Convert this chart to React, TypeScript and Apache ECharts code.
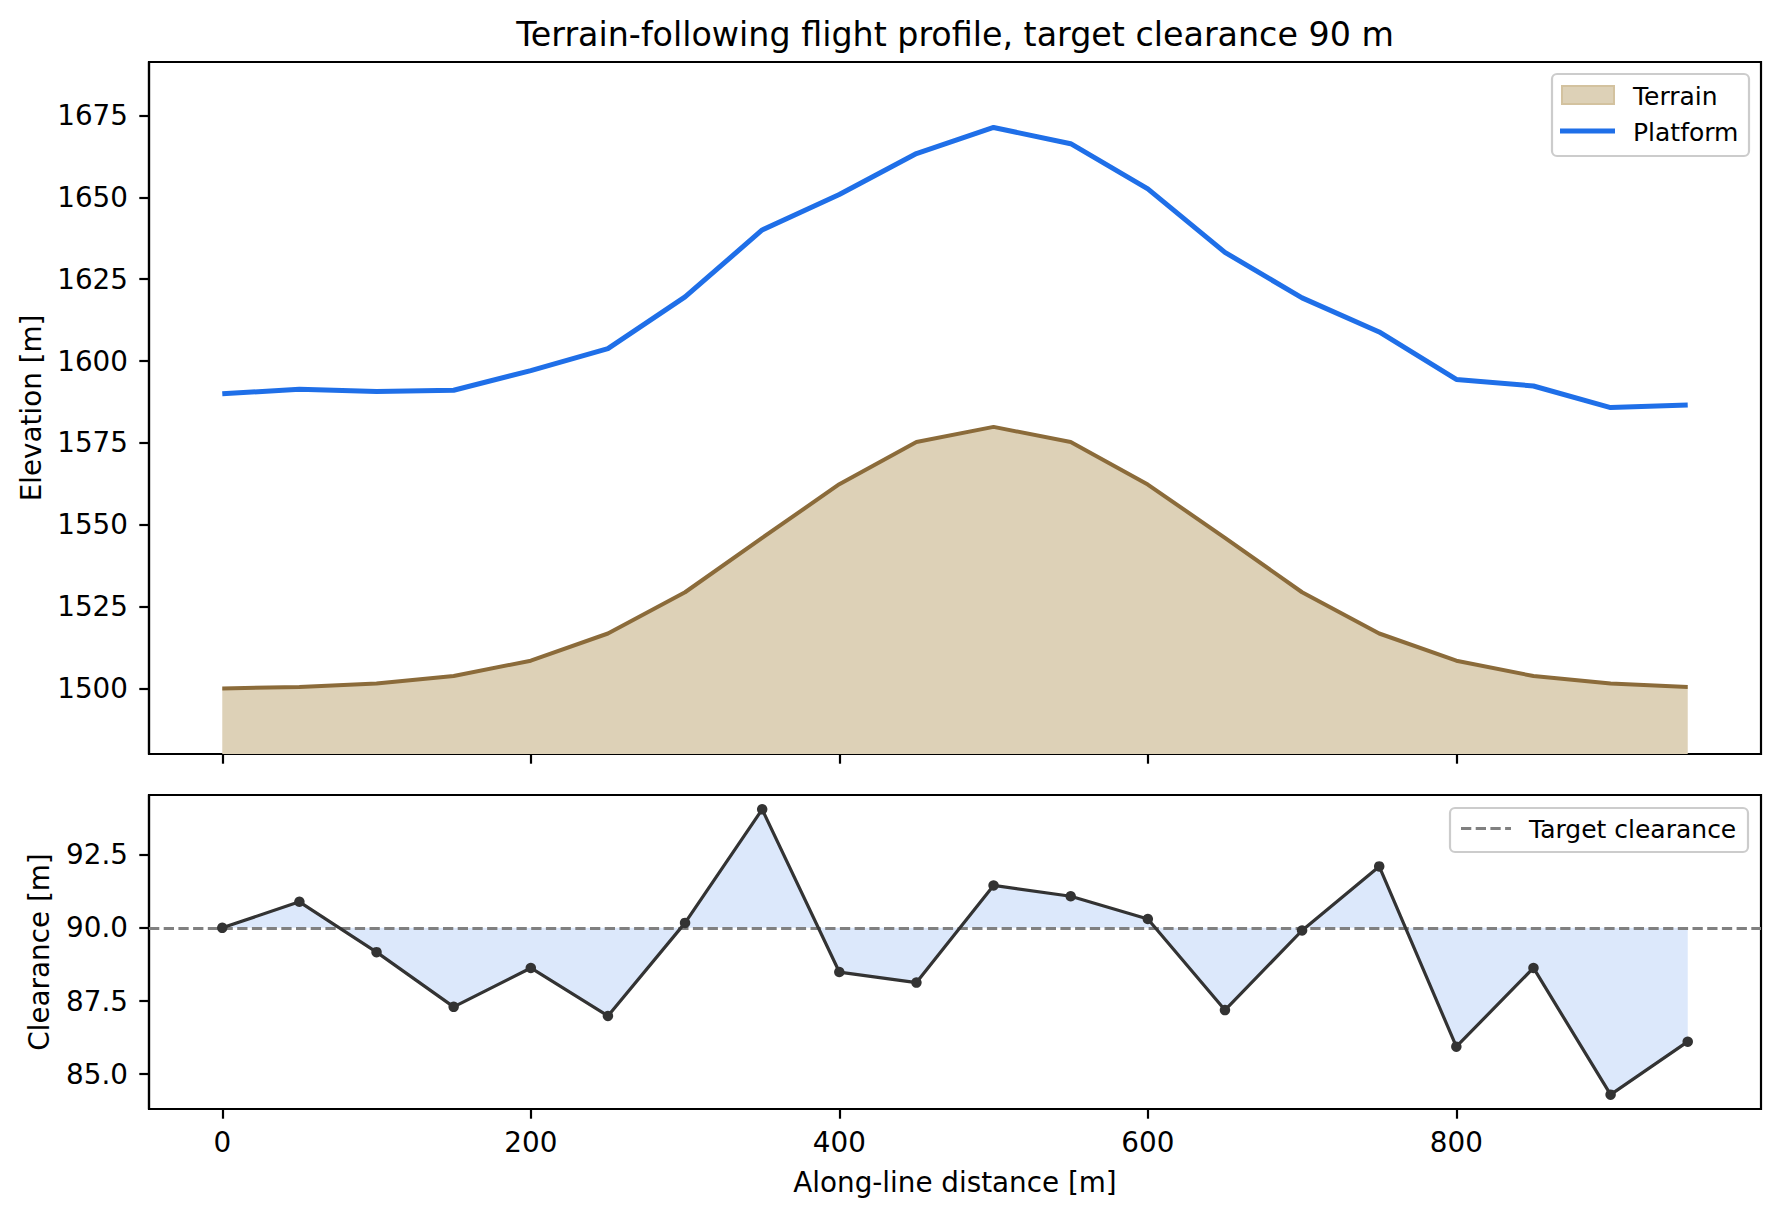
import React, { useEffect, useRef } from "react";
import * as echarts from "echarts";

// ---- data ----
const DISTANCE = [0, 50, 100, 150, 200, 250, 300, 350, 400, 450, 500, 550, 600, 650, 700, 750, 800, 850, 900, 950];
const TERRAIN = [1500.0, 1500.5, 1501.5, 1503.8, 1508.5, 1516.8, 1529.4, 1546.0, 1562.4, 1575.3, 1579.9, 1575.3, 1562.3, 1546.0, 1529.4, 1516.8, 1508.5, 1503.8, 1501.5, 1500.5];
const PLATFORM = [1590.0, 1591.4, 1590.7, 1591.1, 1597.1, 1603.8, 1619.6, 1640.05, 1650.9, 1663.4, 1671.35, 1666.4, 1652.6, 1633.2, 1619.3, 1608.9, 1594.4, 1592.4, 1585.8, 1586.6];
const CLEARANCE = [90.0, 90.89, 89.17, 87.3, 88.63, 86.99, 90.17, 94.05, 88.49, 88.13, 91.45, 91.08, 90.3, 87.19, 89.91, 92.1, 85.94, 88.63, 84.3, 86.11];
const TARGET = 90;
const X_TICKS = [0, 200, 400, 600, 800];
const ELEV_TICKS = [1500, 1525, 1550, 1575, 1600, 1625, 1650, 1675];
const CLEAR_TICKS = [85, 87.5, 90, 92.5];

const TITLE = "Terrain-following flight profile, target clearance 90 m";

const FONT = "DejaVu Sans";
const FS_TICK = 27.8;
const FS_LEG = 25;
const FS_TITLE = 33.3;

const BLUE = "#1f6fe8";
const TAN_LINE = "#8b6b3a";
const TAN_FILL = "#ddd1b7";
const LIGHT_BLUE = "#dce8fb";
const DARK = "#333333";
const GREY = "#808080";

export default function App() {
  const ref = useRef<HTMLDivElement>(null);

  useEffect(() => {
    document.body.style.margin = "0";
    if (!ref.current) return;
    const chart = echarts.init(ref.current, null, { renderer: "svg" });

    const terrainData = DISTANCE.map((x, i) => [x, TERRAIN[i]]);
    const platformData = DISTANCE.map((x, i) => [x, PLATFORM[i]]);
    const clearanceData = DISTANCE.map((x, i) => [x, CLEARANCE[i]]);

    const tickStyle = { color: "#000", width: 2.2 };
    const labelBase = { color: "#000", fontFamily: FONT, fontSize: FS_TICK };

    const xAxisBase = {
      type: "value" as const,
      min: -47.5,
      max: 997.5,
      axisLine: { show: true, onZero: false, lineStyle: tickStyle },
      axisTick: { show: true, inside: false, length: 9.7, lineStyle: tickStyle, customValues: X_TICKS },
      splitLine: { show: false },
    };

    const option: any = {
      animation: false,
      backgroundColor: "#ffffff",
      grid: [
        { left: 149, top: 62, width: 1612, height: 692, show: true, borderColor: "#000", borderWidth: 2.2, backgroundColor: "transparent" },
        { left: 149, top: 795, width: 1612, height: 314, show: true, borderColor: "#000", borderWidth: 2.2, backgroundColor: "transparent" },
      ],
      xAxis: [
        { ...xAxisBase, gridIndex: 0, axisLabel: { show: false } },
        { ...xAxisBase, gridIndex: 1, axisLabel: { ...labelBase, show: true, margin: 19, customValues: X_TICKS, formatter: (v: number) => String(v) } },
      ],
      yAxis: [
        {
          type: "value",
          gridIndex: 0,
          min: 1480,
          max: 1691.35,
          axisLine: { show: true, onZero: false, lineStyle: tickStyle },
          axisTick: { show: true, inside: false, length: 9.7, lineStyle: tickStyle, customValues: ELEV_TICKS },
          axisLabel: { ...labelBase, margin: 21, customValues: ELEV_TICKS, formatter: (v: number) => String(v) },
          splitLine: { show: false },
        },
        {
          type: "value",
          gridIndex: 1,
          min: 83.81,
          max: 94.54,
          axisLine: { show: true, onZero: false, lineStyle: tickStyle },
          axisTick: { show: true, inside: false, length: 9.7, lineStyle: tickStyle, customValues: CLEAR_TICKS },
          axisLabel: { ...labelBase, margin: 21, customValues: CLEAR_TICKS, formatter: (v: number) => v.toFixed(1) },
          splitLine: { show: false },
        },
      ],
      series: [
        {
          name: "Terrain",
          type: "line",
          xAxisIndex: 0,
          yAxisIndex: 0,
          data: terrainData,
          symbol: "none",
          z: 2,
          lineStyle: { color: TAN_LINE, width: 4 },
          areaStyle: { color: TAN_FILL, opacity: 1, origin: "start" },
        },
        {
          name: "Platform",
          type: "line",
          xAxisIndex: 0,
          yAxisIndex: 0,
          data: platformData,
          symbol: "none",
          z: 3,
          lineStyle: { color: BLUE, width: 5 },
        },
        {
          name: "ClearanceFill",
          type: "line",
          xAxisIndex: 1,
          yAxisIndex: 1,
          data: clearanceData,
          symbol: "none",
          z: 1,
          lineStyle: { width: 0, opacity: 0 },
          areaStyle: { color: LIGHT_BLUE, opacity: 1, origin: TARGET },
          markLine: {
            silent: true,
            symbol: "none",
            label: { show: false },
            lineStyle: { color: GREY, width: 2.8, type: [10.3, 4.4] },
            data: [{ yAxis: TARGET }],
          },
        },
        {
          name: "Clearance",
          type: "line",
          xAxisIndex: 1,
          yAxisIndex: 1,
          data: clearanceData,
          symbol: "circle",
          symbolSize: 10.5,
          z: 5,
          itemStyle: { color: DARK },
          lineStyle: { color: DARK, width: 3.2 },
        },
      ],
      graphic: [
        {
          type: "text",
          x: 955,
          y: 34,
          style: { text: TITLE, fontFamily: FONT, fontSize: FS_TITLE, fill: "#000", align: "center", verticalAlign: "middle" },
        },
        {
          type: "text",
          x: 31,
          y: 408,
          rotation: Math.PI / 2,
          style: { text: "Elevation [m]", fontFamily: FONT, fontSize: FS_TICK, fill: "#000", align: "center", verticalAlign: "middle" },
        },
        {
          type: "text",
          x: 39.6,
          y: 952,
          rotation: Math.PI / 2,
          style: { text: "Clearance [m]", fontFamily: FONT, fontSize: FS_TICK, fill: "#000", align: "center", verticalAlign: "middle" },
        },
        {
          type: "text",
          x: 955,
          y: 1182,
          style: { text: "Along-line distance [m]", fontFamily: FONT, fontSize: FS_TICK, fill: "#000", align: "center", verticalAlign: "middle" },
        },
        // legend, top panel
        {
          type: "rect",
          z: 100,
          shape: { x: 1552, y: 74, width: 197, height: 82, r: 5 },
          style: { fill: "rgba(255,255,255,0.8)", stroke: "#cccccc", lineWidth: 2.2 },
        },
        {
          type: "rect",
          z: 101,
          shape: { x: 1562, y: 86, width: 52, height: 18 },
          style: { fill: TAN_FILL, stroke: "#d3c29f", lineWidth: 2 },
        },
        {
          type: "line",
          z: 101,
          shape: { x1: 1560, y1: 131, x2: 1615, y2: 131 },
          style: { stroke: BLUE, lineWidth: 5 },
        },
        {
          type: "text",
          z: 101,
          x: 1633,
          y: 96,
          style: { text: "Terrain", fontFamily: FONT, fontSize: FS_LEG, fill: "#000", align: "left", verticalAlign: "middle" },
        },
        {
          type: "text",
          z: 101,
          x: 1633,
          y: 132,
          style: { text: "Platform", fontFamily: FONT, fontSize: FS_LEG, fill: "#000", align: "left", verticalAlign: "middle" },
        },
        // legend, bottom panel
        {
          type: "rect",
          z: 100,
          shape: { x: 1450, y: 808, width: 298, height: 44, r: 5 },
          style: { fill: "rgba(255,255,255,0.8)", stroke: "#cccccc", lineWidth: 2.2 },
        },
        {
          type: "line",
          z: 101,
          shape: { x1: 1461, y1: 828.5, x2: 1511, y2: 828.5 },
          style: { stroke: GREY, lineWidth: 2.8, lineDash: [10.3, 4.4] },
        },
        {
          type: "text",
          z: 101,
          x: 1529,
          y: 829,
          style: { text: "Target clearance", fontFamily: FONT, fontSize: FS_LEG, fill: "#000", align: "left", verticalAlign: "middle" },
        },
      ],
    };

    chart.setOption(option);
    return () => {
      chart.dispose();
    };
  }, []);

  return <div ref={ref} style={{ width: 1780, height: 1217 }} />;
}
